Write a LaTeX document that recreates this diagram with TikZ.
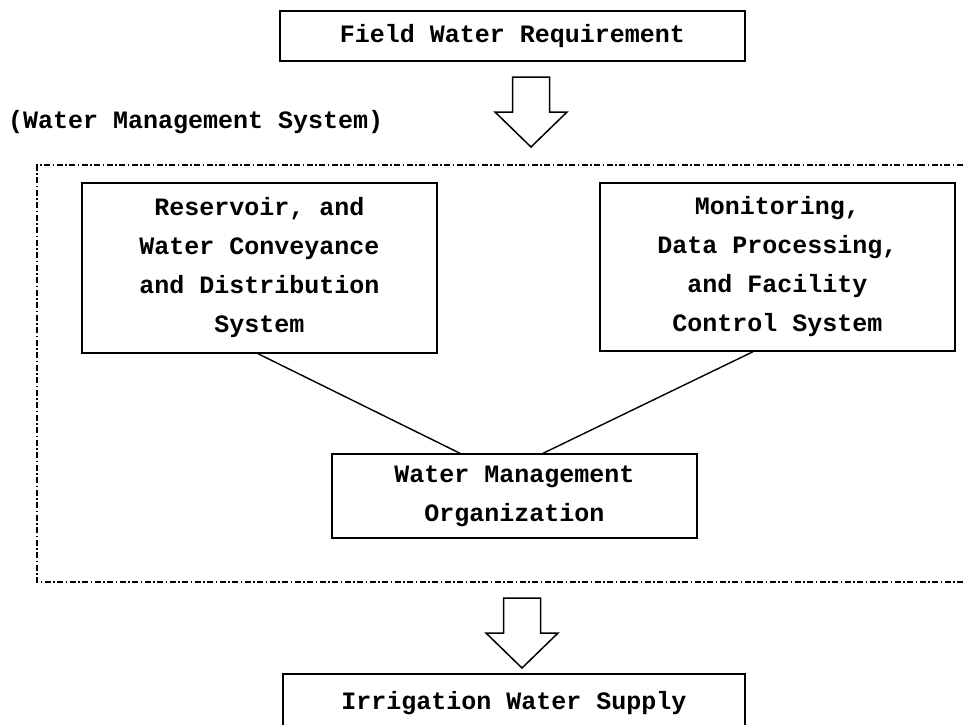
\documentclass[tikz,border=0pt]{standalone}
\usepackage{fontspec}
\setmonofont{Liberation Mono}
\usetikzlibrary{calc}

\tikzset{
  box/.style={draw, line width=1.4pt, align=center, inner sep=0pt,
    font=\ttfamily\bfseries\fontsize{25}{39}\selectfont},
  link/.style={line width=1.4pt},
  frame/.style={line width=1.2pt, dash pattern=on 6pt off 2.5pt on 1.5pt off 2.5pt},
  plain/.style={font=\ttfamily\bfseries\fontsize{25}{39}\selectfont, inner sep=0pt},
  pics/blockarrow/.style={code={
    \draw[line width=1.5pt, line join=miter]
      (-18.5,0) -- (18.5,0) -- (18.5,35) -- (36,35) -- (0,70)
      -- (-36,35) -- (-18.5,35) -- cycle;
  }}
}

\begin{document}
\begin{tikzpicture}[x=1pt, y=-1pt]
  \useasboundingbox (0,0) rectangle (963,724);
  \clip (0,0) rectangle (963,724);

  % input requirement
  \node[box, minimum width=465pt, minimum height=50pt] (req) at (512.5,36)
    {Field Water Requirement};
  \pic at (531,77) {blockarrow};

  % system label and its dash-dot frame (open to the right)
  \node[plain, anchor=west] (syslabel) at (8,122) {(Water Management System)};
  \draw[frame] (975,165) -- (37,165) -- (37,582) -- (975,582);

  % subsystems
  \node[box, minimum width=355pt, minimum height=170pt] (res) at (259.5,268)
    {Reservoir, and\\Water Conveyance\\and Distribution\\System};
  \node[box, minimum width=355pt, minimum height=168pt] (mon) at (777.5,267)
    {Monitoring,\\Data Processing,\\and Facility\\Control System};
  \node[box, minimum width=365pt, minimum height=84pt] (org) at (514.5,496)
    {Water Management\\Organization};

  \draw[link] ([xshift=-1.5pt]res.south) -- ([xshift=-54.5pt]org.north);
  \draw[link] ([xshift=-24.5pt]mon.south) -- ([xshift=28.5pt]org.north);

  % output
  \pic at (522,598) {blockarrow};
  \node[box, minimum width=462pt, minimum height=58pt] (supply) at (514,703)
    {Irrigation Water Supply};
\end{tikzpicture}
\end{document}
